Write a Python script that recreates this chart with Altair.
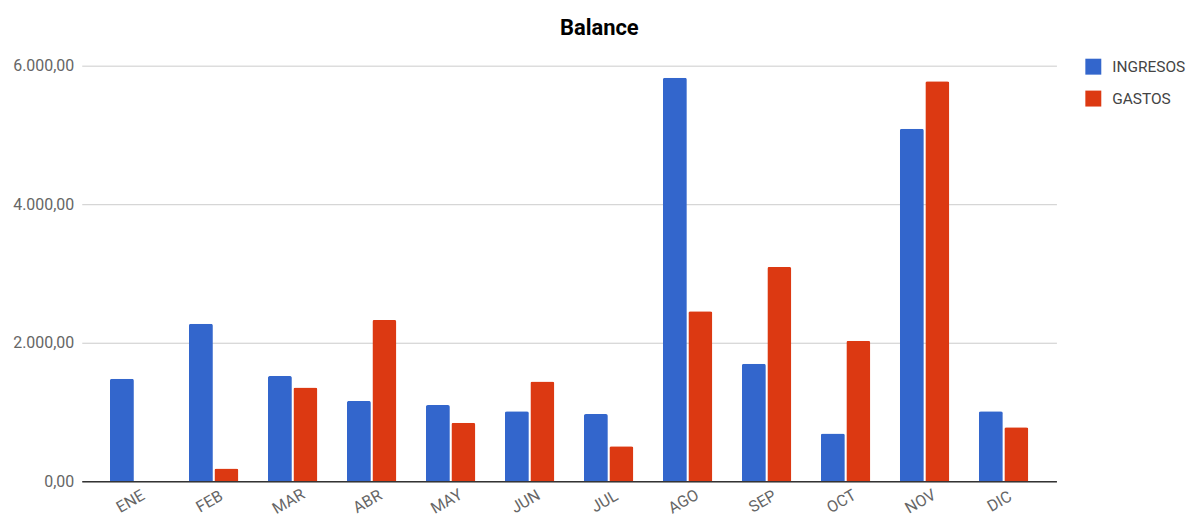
import altair as alt
import pandas as pd

months = ["ENE", "FEB", "MAR", "ABR", "MAY", "JUN", "JUL", "AGO", "SEP", "OCT", "NOV", "DIC"]
series = ["INGRESOS", "GASTOS"]
ingresos = [1480, 2275, 1520, 1160, 1100, 1010, 970, 5825, 1695, 690, 5090, 1010]
gastos = [0, 185, 1355, 2330, 845, 1440, 505, 2455, 3095, 2030, 5775, 780]
y_ticks = [0, 2000, 4000, 6000]
colors = ["#3366cc", "#dc3912"]

rows = []
for m, i, g in zip(months, ingresos, gastos):
    rows.append({"mes": m, "serie": "INGRESOS", "valor": i})
    rows.append({"mes": m, "serie": "GASTOS", "valor": g})
df = pd.DataFrame(rows)

label_expr = "datum.value == 0 ? '0,00' : format(datum.value / 1000, 'd') + '.000,00'"

chart = alt.Chart(df).mark_bar(cornerRadiusTopLeft=2, cornerRadiusTopRight=2).encode(
    x=alt.X(
        "mes:N", sort=months,
        scale=alt.Scale(paddingInner=0.375, paddingOuter=0.357),
        axis=alt.Axis(
            title=None, labelAngle=330, labelAlign="center", labelBaseline="top",
            labelPadding=13, ticks=False, domainColor="#333333", domainWidth=1.5,
            labelColor="#666666", labelFontSize=16, labelFont="Roboto", labelOffset=-8,
        ),
    ),
    xOffset=alt.XOffset("serie:N", sort=series, scale=alt.Scale(paddingInner=0.06)),
    y=alt.Y(
        "valor:Q",
        scale=alt.Scale(domain=[0, 6000]),
        axis=alt.Axis(
            title=None, values=y_ticks, labelExpr=label_expr, grid=True,
            gridColor="#cccccc", domain=False, ticks=False, labelPadding=8,
            labelColor="#666666", labelFontSize=16, labelFont="Roboto",
        ),
    ),
    color=alt.Color(
        "serie:N", sort=series,
        scale=alt.Scale(domain=series, range=colors),
        legend=alt.Legend(
            title=None, orient="none", legendX=1007, legendY=-7,
            symbolType="square", symbolSize=256, symbolStrokeWidth=0,
            labelFontSize=15.5, labelFont="Roboto", labelColor="#444444",
            labelOffset=11, rowPadding=15, padding=0,
        ),
    ),
).properties(
    width=978,
    height=417,
    padding={"left": 4, "top": 8, "right": 0, "bottom": 5},
    title=alt.TitleParams(
        "Balance", fontSize=22, font="Roboto", fontWeight="bold", color="#000000",
        anchor="middle", frame="bounds", offset=18,
    ),
).configure_view(stroke=None)

chart.save("out.html", embed_options={"renderer": "svg", "actions": False})
